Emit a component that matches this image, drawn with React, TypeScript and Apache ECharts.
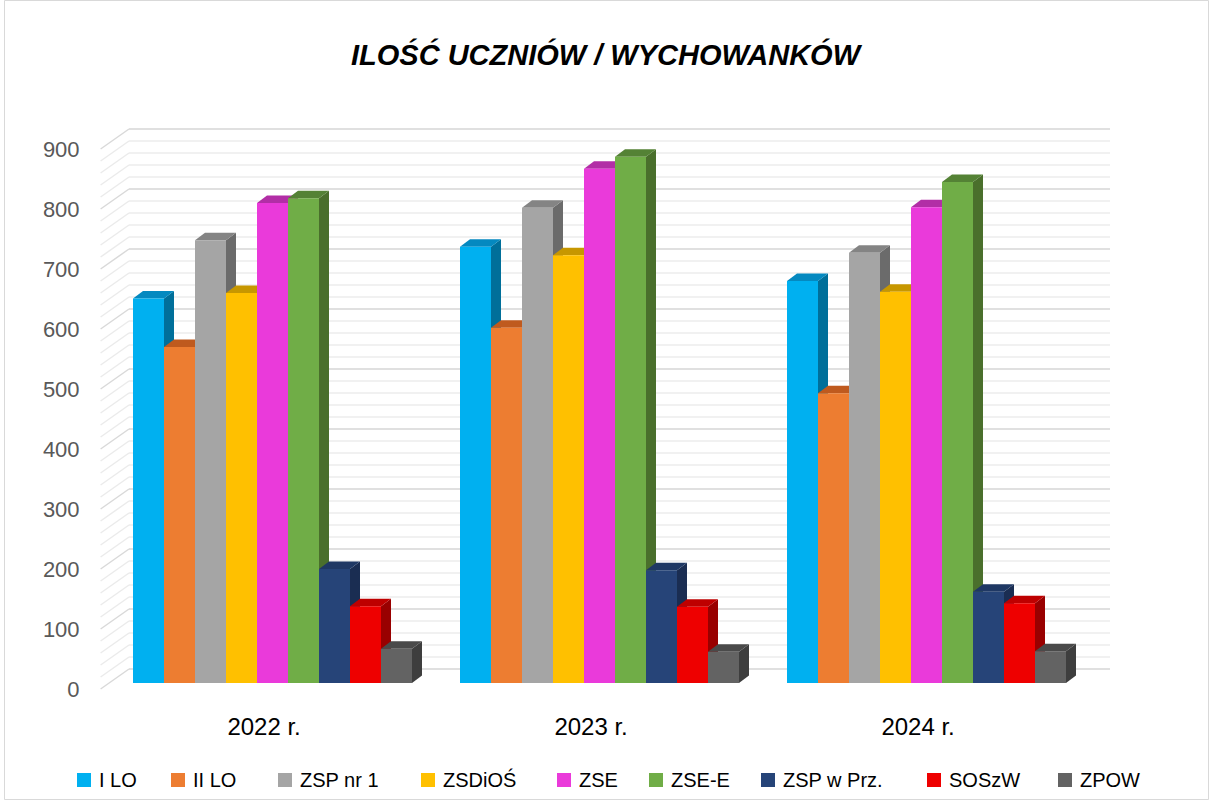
import React, { useEffect, useRef } from "react";
import * as echarts from "echarts";

const categories = ["2022 r.", "2023 r.", "2024 r."];
const schools = ["I LO", "II LO", "ZSP nr 1", "ZSDiOŚ", "ZSE", "ZSE-E", "ZSP w Prz.", "SOSzW", "ZPOW"];
const iLO = [641, 727, 670];
const iiLO = [560, 592, 483];
const zspNr1 = [738, 792, 717];
const zsdios = [650, 713, 652];
const zse = [800, 857, 793];
const zseE = [808, 877, 835];
const zspWPrz = [190, 188, 152];
const soszw = [128, 127, 133];
const zpow = [57, 52, 53];
const seriesValues = [iLO, iiLO, zspNr1, zsdios, zse, zseE, zspWPrz, soszw, zpow];

const frontColors = ["#00B0F0", "#ED7D31", "#A5A5A5", "#FFC000", "#EA3ADA", "#70AD47", "#264478", "#EE0000", "#636363"];
const topColors = ["#0489C0", "#BF5A1E", "#848484", "#C79700", "#B22EA6", "#548235", "#1F3864", "#BE0000", "#4A4A4A"];
const sideColors = ["#006F9A", "#A9501A", "#6B6B6B", "#B08600", "#9E2894", "#4A6F2C", "#1A2D52", "#990000", "#3E3E3E"];
const legendLefts = [77, 171, 278, 421, 557, 649, 761, 927, 1058];

const FONT = "'Liberation Sans', Arial, sans-serif";
const GROUP_RATIO = 279 / 327;
const DEPTH_X = 10;
const DEPTH_Y = 7.5;

export default function App() {
  const ref = useRef<HTMLDivElement>(null);
  useEffect(() => {
    if (!ref.current) return;
    const chart = echarts.init(ref.current, null, { renderer: "svg" });
    const n = schools.length;

    const series: any[] = schools.map((name, si) => ({
      type: "custom",
      name,
      xAxisIndex: 0,
      yAxisIndex: 0,
      itemStyle: { color: frontColors[si] },
      data: seriesValues[si].map((v, ci) => [ci, v]),
      encode: { x: 0, y: 1 },
      z: 5,
      renderItem: (params: any, api: any) => {
        const ci = api.value(0);
        const v = api.value(1);
        const base = api.coord([ci, 0]);
        const top = api.coord([ci, v]);
        const bandW = api.size([1, 0])[0];
        const groupW = bandW * GROUP_RATIO;
        const barW = groupW / n;
        const x0 = base[0] - groupW / 2 + si * barW;
        const x1 = x0 + barW;
        const yT = top[1];
        const yB = base[1];
        return {
          type: "group",
          children: [
            {
              type: "polygon",
              shape: { points: [[x1, yT], [x1 + DEPTH_X, yT - DEPTH_Y], [x1 + DEPTH_X, yB - DEPTH_Y], [x1, yB]] },
              style: { fill: sideColors[si] },
            },
            {
              type: "polygon",
              shape: { points: [[x0, yT], [x0 + DEPTH_X, yT - DEPTH_Y], [x1 + DEPTH_X, yT - DEPTH_Y], [x1, yT]] },
              style: { fill: topColors[si] },
            },
            {
              type: "rect",
              shape: { x: x0, y: yT, width: barW, height: yB - yT },
              style: { fill: frontColors[si] },
            },
          ],
        };
      },
    }));

    const legends = schools.map((name, si) => ({
      data: [name],
      left: legendLefts[si],
      top: 770,
      padding: 0,
      icon: "rect",
      itemWidth: 14,
      itemHeight: 14,
      selectedMode: false,
      textStyle: { fontSize: 20, color: "#000", fontFamily: FONT, padding: [0, 0, 0, 3] },
    }));

    const option: any = {
      animation: false,
      backgroundColor: "#fff",
      title: {
        text: "ILOŚĆ UCZNIÓW / WYCHOWANKÓW",
        left: "center",
        top: 40,
        padding: 0,
        textStyle: { fontSize: 29, fontWeight: "bold", fontStyle: "italic", color: "#000", fontFamily: FONT },
      },
      legend: legends,
      grid: [
        { left: 109, right: 121, top: 143, bottom: 118 },
        { left: 129, right: 101, top: 129, bottom: 132 },
        { left: 100.6, right: 129.4, top: 149, bottom: 112 },
      ],
      xAxis: [
        { type: "category", gridIndex: 0, data: categories, show: false },
        { type: "category", gridIndex: 1, data: categories, show: false },
        {
          type: "category",
          gridIndex: 2,
          data: categories,
          axisLine: { show: false },
          axisTick: { show: false },
          axisLabel: { fontSize: 24, color: "#000", fontFamily: FONT, margin: 25 },
        },
      ],
      yAxis: [
        { type: "value", gridIndex: 0, min: 0, max: 900, interval: 100, show: false },
        {
          type: "value",
          gridIndex: 1,
          min: 0,
          max: 900,
          interval: 100,
          axisLabel: { show: false },
          axisLine: { show: false },
          axisTick: { show: false },
          minorTick: { show: false, splitNumber: 5 },
          splitLine: { show: true, lineStyle: { color: "#D6D6D6", width: 1.5 } },
          minorSplitLine: { show: true, lineStyle: { color: "#EDEDED", width: 1.5 } },
        },
        {
          type: "value",
          gridIndex: 2,
          min: 0,
          max: 900,
          interval: 100,
          axisLine: { show: false },
          axisTick: { show: false },
          splitLine: { show: false },
          axisLabel: { fontSize: 22, color: "#595959", fontFamily: FONT, margin: 21 },
        },
      ],
      series,
    };
    chart.setOption(option);

    // side wall diagonals, from front plane to back wall
    const lines: any[] = [];
    for (let v = 0; v <= 900; v += 20) {
      const yF = chart.convertToPixel({ yAxisIndex: 2 } as any, v) as number;
      const yBk = chart.convertToPixel({ yAxisIndex: 1 } as any, v) as number;
      const major = v % 100 === 0;
      lines.push({
        type: "line",
        z: -1,
        silent: true,
        shape: { x1: 100.6, y1: yF, x2: 129, y2: yBk },
        style: { stroke: major ? "#D9D9D9" : "#EBEBEB", lineWidth: 1.5 },
      });
    }
    lines.push({
      type: "rect",
      z: -2,
      silent: true,
      shape: { x: 4.5, y: 0.5, width: 1204, height: 799 },
      style: { fill: "none", stroke: "#D9D9D9", lineWidth: 1 },
    });
    chart.setOption({ graphic: lines });

    return () => chart.dispose();
  }, []);
  return <div ref={ref} style={{ position: "absolute", left: 0, top: 0, width: 1211, height: 801 }} />;
}
